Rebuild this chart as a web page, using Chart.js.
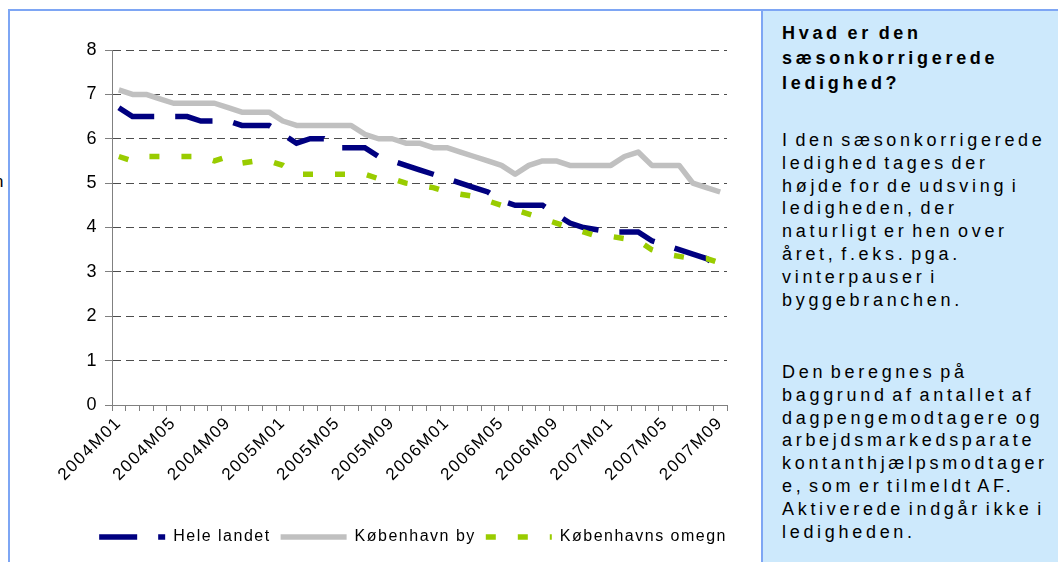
<!DOCTYPE html>
<html>
<head>
<meta charset="utf-8">
<script src="https://cdn.jsdelivr.net/npm/chart.js@4.4.0/dist/chart.umd.min.js"></script>
<style>
  html, body { margin: 0; padding: 0; background: #fff; }
  body { width: 1058px; height: 562px; position: relative; overflow: hidden; font-family: "Liberation Sans", Arial, sans-serif; }
  #chartBox { position: absolute; left: 8px; top: 9px; width: 753px; height: 560px; border-left: 2px solid #7ea6f4; border-top: 2px solid #7ea6f4; }
  #canvasWrap { position: absolute; left: 10px; top: 11px; width: 750px; height: 551px; }
  #panel { position: absolute; left: 761px; top: 9px; width: 300px; height: 560px; background: #cde9fc; border-left: 2px solid #7ea6f4; border-top: 2px solid #7ea6f4; }
  .txt { position: absolute; left: 19px; color: #000; font-size: 18px; letter-spacing: 3.7px; word-spacing: -4px; white-space: nowrap; }
  #head { top: 10px; font-weight: bold; line-height: 25px; letter-spacing: 3.7px; word-spacing: -2px; }
  #p1 { top: 118px; line-height: 22.8px; }
  #p2 { top: 350px; line-height: 22.8px; }
  #cut { position: absolute; left: -6px; top: 172px; font-size: 17px; color: #000; }
</style>
</head>
<body>
<div id="cut">n</div>
<div id="chartBox"></div>
<div id="canvasWrap"><canvas id="ledighedChart" width="750" height="551"></canvas></div>
<div id="panel">
  <div class="txt" id="head">Hvad er den<br>sæsonkorrigerede<br>ledighed?</div>
  <div class="txt" id="p1">I den sæsonkorrigerede<br>ledighed tages der<br>højde for de udsving i<br>ledigheden, der<br>naturligt er hen over<br>året, f.eks. pga.<br>vinterpauser i<br>byggebranchen.</div>
  <div class="txt" id="p2">Den beregnes på<br>baggrund af antallet af<br>dagpengemodtagere og<br>arbejdsmarkedsparate<br>kontanthjælpsmodtager<br>e, som er tilmeldt AF.<br>Aktiverede indgår ikke i<br>ledigheden.</div>
</div>
<script>
// months on the x axis
const months = [
    '2004M01', '2004M02', '2004M03', '2004M04', '2004M05', '2004M06', '2004M07', '2004M08', '2004M09', '2004M10', '2004M11', '2004M12',
    '2005M01', '2005M02', '2005M03', '2005M04', '2005M05', '2005M06', '2005M07', '2005M08', '2005M09', '2005M10', '2005M11', '2005M12',
    '2006M01', '2006M02', '2006M03', '2006M04', '2006M05', '2006M06', '2006M07', '2006M08', '2006M09', '2006M10', '2006M11', '2006M12',
    '2007M01', '2007M02', '2007M03', '2007M04', '2007M05', '2007M06', '2007M07', '2007M08', '2007M09'
];

// only these get a label under the axis
const shownTicks = ['2004M01', '2004M05', '2004M09', '2005M01', '2005M05', '2005M09', '2006M01', '2006M05', '2006M09', '2007M01', '2007M05', '2007M09'];

const yTicks = [0, 1, 2, 3, 4, 5, 6, 7, 8];

const seriesNames = ['Hele landet', 'København by', 'Københavns omegn'];

const heleLandet = [
    6.7, 6.5, 6.5, 6.5, 6.5, 6.5, 6.4, 6.4, 6.4, 6.3, 6.3, 6.3,
    6.1, 5.9, 6.0, 6.0, 5.8, 5.8, 5.8, 5.6, 5.5, 5.4, 5.3, 5.2,
    5.1, 5.0, 4.9, 4.8, 4.6, 4.5, 4.5, 4.5, 4.3, 4.1, 4.0, 3.95,
    3.9, 3.9, 3.9, 3.7, 3.6, 3.5, 3.4, 3.3, 3.1
];

const kbhBy = [
    7.1, 7.0, 7.0, 6.9, 6.8, 6.8, 6.8, 6.8, 6.7, 6.6, 6.6, 6.6,
    6.4, 6.3, 6.3, 6.3, 6.3, 6.3, 6.1, 6.0, 6.0, 5.9, 5.9, 5.8,
    5.8, 5.7, 5.6, 5.5, 5.4, 5.2, 5.4, 5.5, 5.5, 5.4, 5.4, 5.4,
    5.4, 5.6, 5.7, 5.4, 5.4, 5.4, 5.0, 4.9, 4.8
];

const kbhOmegn = [
    5.6, 5.5, 5.6, 5.6, 5.6, 5.6, 5.6, 5.5, 5.6, 5.45, 5.5, 5.5,
    5.4, 5.2, 5.2, 5.2, 5.2, 5.2, 5.2, 5.1, 5.1, 5.0, 4.95, 4.9,
    4.8, 4.75, 4.7, 4.6, 4.5, 4.4, 4.3, 4.2, 4.1, 4.0, 3.9, 3.8,
    3.8, 3.75, 3.7, 3.5, 3.4, 3.35, 3.3, 3.3, 3.2
];

const fontFamily = '"Liberation Sans", Arial, sans-serif';

// canvas text is a bit wider in the original, so add some letter spacing
// and push the legend a little to the right
const tweakPlugin = {
    id: 'tweak',
    beforeUpdate(chart) { chart.ctx.letterSpacing = '1.5px'; },
    beforeDraw(chart) {
        chart.ctx.letterSpacing = '1.5px';
        if (chart.legend && !chart.legend._shifted) {
            chart.legend.left += 10;
            chart.legend.right += 10;
            chart.legend._shifted = true;
        }
    }
};

const ctx = document.getElementById('ledighedChart').getContext('2d');
const chartInstance = new Chart(ctx, {
    type: 'line',
    data: {
        labels: months,
        datasets: [{
            label: seriesNames[0],
            data: heleLandet,
            borderColor: '#000080',
            backgroundColor: '#000080',
            borderWidth: 5.5,
            borderDash: [38, 21],
            order: 2
        }, {
            label: seriesNames[1],
            data: kbhBy,
            borderColor: '#c0c0c0',
            backgroundColor: '#c0c0c0',
            borderWidth: 5.5,
            borderJoinStyle: 'round',
            order: 1
        }, {
            label: seriesNames[2],
            data: kbhOmegn,
            borderColor: '#99cc00',
            backgroundColor: '#99cc00',
            borderWidth: 5.5,
            borderDash: [10, 22],
            order: 0
        }]
    },
    options: {
        responsive: false,
        animation: false,
        elements: {
            point: { radius: 0, hoverRadius: 0 },
            line: { tension: 0, fill: false, borderCapStyle: 'butt' }
        },
        layout: {
            padding: { left: 0, right: 33, top: 39, bottom: 7 }
        },
        scales: {
            x: {
                type: 'category',
                offset: true,
                grid: {
                    offset: true,
                    drawOnChartArea: false,
                    drawTicks: true,
                    tickLength: 6,
                    tickColor: '#808080'
                },
                border: { color: '#808080', width: 1 },
                ticks: {
                    autoSkip: false,
                    maxRotation: 45,
                    minRotation: 45,
                    color: '#000',
                    padding: 2,
                    font: { family: fontFamily, size: 17 },
                    callback: function (value) {
                        const lbl = this.getLabelForValue(value);
                        return shownTicks.includes(lbl) ? lbl : '';
                    }
                },
                afterFit: (scale) => { scale.height = 114; }
            },
            y: {
                min: yTicks[0],
                max: yTicks[yTicks.length - 1],
                afterBuildTicks: (scale) => { scale.ticks = yTicks.map(v => ({ value: v })); },
                grid: {
                    color: (c) => (c.tick && c.tick.value === 0) ? 'rgba(0,0,0,0)' : '#4d4d4d',
                    lineWidth: 1,
                    tickLength: 7,
                    tickColor: '#808080'
                },
                border: { color: '#808080', width: 1, dash: [8, 5] },
                ticks: {
                    color: '#000',
                    padding: 7,
                    font: { family: fontFamily, size: 18 }
                },
                afterFit: (scale) => { scale.width = 102; }
            }
        },
        plugins: {
            title: { display: false },
            tooltip: { enabled: false },
            legend: {
                position: 'bottom',
                align: 'end',
                labels: {
                    usePointStyle: true,
                    pointStyle: 'line',
                    pointStyleWidth: 66,
                    boxHeight: 16,
                    padding: 10,
                    color: '#000',
                    font: { family: fontFamily, size: 16 },
                    sort: (a, b) => a.datasetIndex - b.datasetIndex,
                    generateLabels: (chart) => {
                        const items = Chart.defaults.plugins.legend.labels.generateLabels(chart);
                        items.forEach(item => {
                            // legend sample should use the line's dash, not the point style
                            const ds = chart.data.datasets[item.datasetIndex];
                            item.lineDash = ds.borderDash || [];
                            item.lineDashOffset = 0;
                            item.lineWidth = ds.borderWidth;
                            item.strokeStyle = ds.borderColor;
                            item.lineCap = 'butt';
                            item.pointStyle = 'line';
                        });
                        return items;
                    }
                }
            }
        }
    },
    plugins: [tweakPlugin]
});
</script>
</body>
</html>
